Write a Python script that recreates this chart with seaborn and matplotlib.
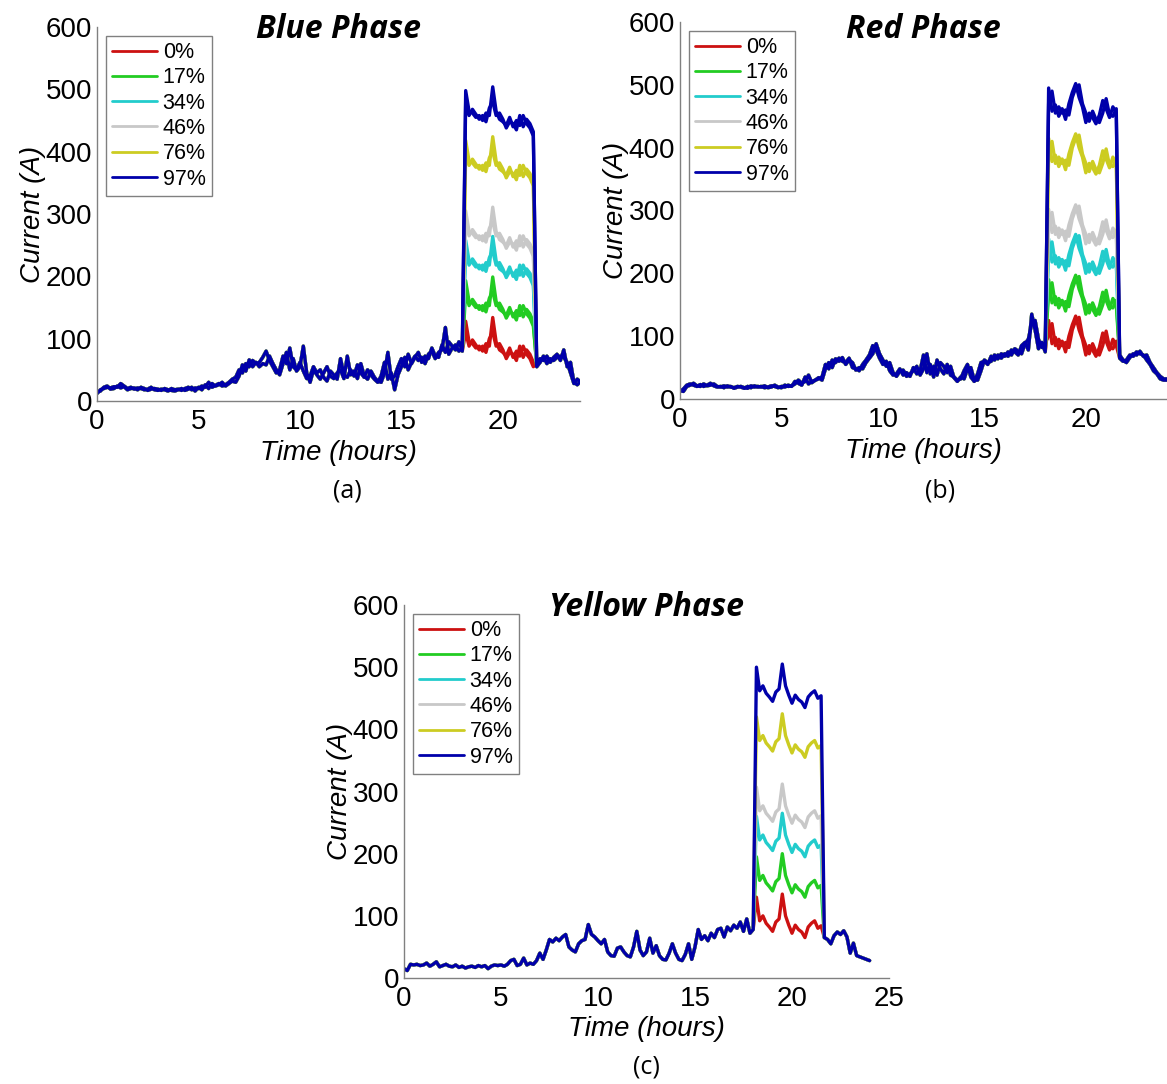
import numpy as np
import pandas as pd
import matplotlib
matplotlib.use("Agg")
import matplotlib.pyplot as plt
import seaborn as sns

# ---------------- data ----------------
levels = ["0%", "17%", "34%", "46%", "76%", "97%"]
# extra current carried by each level during the evening window (A)
level_offset = [0, 65, 130, 177, 290, 370]
window_start_h = 18.1
window_end_h = 21.55
step_h = 1 / 6  # 10-minute samples, 0..24 h

# Blue phase, two traces (A), 10-minute samples
blue_trace1 = [
    12, 18, 20, 22, 21, 23,  22, 28, 24, 20, 22, 19,  21, 20, 18, 19, 22, 18,
    17, 19, 18, 16, 20, 18,  19, 17, 20, 22, 18, 21,  20, 24, 22, 30, 22, 25,
    28, 24, 26, 30, 35, 38,  50, 45, 60, 55, 65, 60,  62, 70, 80, 65, 55, 45,
    50, 72, 60, 85, 55, 50,  62, 48, 36, 40, 55, 45,  50, 38, 32, 48, 42, 35,
    68, 42, 38, 50, 40, 58,  45, 38, 50, 42, 35, 30,  40, 62, 35, 45, 18, 42,
    55, 70, 50, 62, 72, 65,  70, 60, 75, 80, 68, 78,  82, 118, 75, 85, 90, 80,
    85, 128, 95, 92, 85, 88,  80, 92, 88, 134, 95, 82,  78, 72, 85, 70, 80, 72,
    88, 75, 68, 55, 60, 68,  65, 72, 62, 70, 75, 65,  82, 55, 62, 30, 26, 32,
    30]
blue_trace2 = [
    14, 16, 22, 24, 19, 20,  24, 21, 23, 18, 20, 21,  18, 22, 20, 17, 19, 20,
    19, 17, 20, 18, 17, 16,  18, 20, 17, 19, 22, 16,  22, 18, 26, 20, 28, 24,
    26, 30, 24, 28, 32, 30,  40, 58, 48, 66, 55, 62,  55, 60, 58, 72, 60, 50,
    42, 60, 78, 50, 68, 48,  55, 88, 45, 30, 50, 42,  35, 45, 55, 40, 36, 45,
    50, 36, 72, 42, 48, 36,  60, 40, 35, 48, 38, 32,  30, 45, 78, 35, 40, 55,
    68, 55, 75, 60, 70, 78,  62, 72, 68, 85, 72, 70,  90, 78, 95, 88, 82, 95,
    80, 110, 88, 98, 90, 82,  88, 78, 100, 110, 88, 92,  82, 68, 78, 75, 65, 88,
    70, 82, 75, 62, 55, 62,  72, 60, 68, 65, 70, 72,  70, 62, 45, 28, 35, 30,
    28]

# Red phase, two traces (A)
red_trace1 = [
    12, 16, 22, 24, 22, 20,  23, 20, 22, 25, 21, 19,  20, 18, 21, 19, 18, 20,
    19, 17, 20, 18, 21, 19,  20, 18, 19, 21, 20, 18,  20, 19, 22, 20, 28, 25,
    22, 35, 24, 28, 30, 32,  35, 55, 48, 62, 58, 65,  60, 58, 65, 50, 48, 45,
    55, 62, 70, 85, 78, 65,  55, 60, 45, 38, 40, 48,  38, 42, 36, 50, 40, 45,
    70, 42, 55, 35, 62, 48,  40, 55, 38, 35, 30, 32,  45, 55, 35, 28, 40, 58,
    60, 55, 68, 62, 70, 65,  72, 68, 78, 75, 70, 85,  90, 78, 135, 110, 80, 90,
    75, 125, 88, 98, 80, 92,  75, 100, 118, 132, 110, 95,  70, 85, 78, 68, 82, 105,
    92, 78, 95, 85, 65, 60,  62, 70, 68, 75, 72, 70,  62, 55, 45, 40, 32, 30,
    30]
red_trace2 = [
    14, 12, 20, 22, 25, 21,  20, 24, 21, 22, 24, 20,  19, 21, 19, 20, 17, 19,
    20, 18, 17, 21, 19, 20,  19, 21, 18, 19, 22, 19,  18, 22, 20, 21, 24, 30,
    25, 28, 38, 26, 30, 34,  30, 48, 58, 50, 64, 60,  66, 55, 62, 58, 46, 50,
    48, 58, 65, 72, 88, 72,  62, 52, 58, 42, 36, 44,  46, 36, 40, 45, 52, 38,
    48, 72, 40, 52, 38, 58,  52, 42, 52, 34, 28, 35,  32, 48, 50, 30, 30, 45,
    62, 58, 60, 70, 64, 72,  68, 75, 70, 80, 76, 72,  88, 95, 120, 125, 95, 82,
    90, 100, 120, 85, 95, 85,  90, 82, 110, 125, 130, 100,  85, 72, 88, 75, 70, 85,
    108, 82, 80, 92, 70, 62,  58, 66, 72, 70, 76, 68,  70, 58, 50, 42, 36, 32,
    32]

# Yellow phase, one trace (A)
yellow_trace1 = [
    15, 12, 22, 21, 22, 20,  21, 24, 19, 22, 26, 18,  20, 22, 19, 18, 21, 17,
    19, 16, 18, 19, 17, 20,  18, 20, 15, 19, 21, 20,  21, 19, 22, 28, 30, 20,
    22, 32, 21, 24, 22, 28,  40, 30, 45, 62, 58, 64,  60, 66, 70, 50, 45, 42,
    55, 60, 62, 86, 70, 66,  60, 55, 62, 42, 36, 35,  48, 50, 42, 36, 34, 50,
    75, 45, 36, 42, 64, 40,  52, 36, 30, 29, 40, 55,  40, 30, 28, 38, 55, 30,
    50, 78, 62, 68, 60, 72,  65, 78, 80, 66, 82, 76,  85, 80, 90, 75, 95, 72,
    78, 130, 92, 100, 88, 82,  75, 90, 95, 135, 100, 85,  72, 85, 78, 74, 65, 82,
    88, 92, 80, 84, 65, 62,  55, 68, 74, 70, 76, 66,  40, 56, 36, 34, 32, 30,
    28]

panels = [
    ("Blue Phase", "(a)", [blue_trace1, blue_trace2]),
    ("Red Phase", "(b)", [red_trace1, red_trace2]),
    ("Yellow Phase", "(c)", [yellow_trace1]),
]

# ---------------- style ----------------
level_colors = ["#cc1111", "#22cc22", "#22cccc", "#c8c8c8", "#cccc22", "#0000aa"]
sns.set_style("white")
plt.rcParams["font.family"] = ["Liberation Sans", "DejaVu Sans"]
plt.rcParams["text.color"] = "black"
plt.rcParams["axes.labelcolor"] = "black"
plt.rcParams["xtick.labelcolor"] = "black"
plt.rcParams["ytick.labelcolor"] = "black"

fig = plt.figure(figsize=(11.67, 10.84), dpi=100)
W, H = 1167, 1084
# axes rectangles in pixels: left, top(600 line), right, bottom(0 line)
rects = [(97, 27, 580, 401), (680, 22, 1167, 399), (404, 605, 889, 978)]
xlims = [(0, 23.8), (0, 24), (0, 25)]
xticks = [[0, 5, 10, 15, 20], [0, 5, 10, 15, 20], [0, 5, 10, 15, 20, 25]]
caption_pos = [(347, 491), (940, 491), (646, 1067)]
title_pos = [30, 30, 607]

for (title, cap, traces), (l, t, r, b), xl, xt, cp, ty in zip(
        panels, rects, xlims, xticks, caption_pos, title_pos):
    ax = fig.add_axes([l / W, (H - b) / H, (r - l) / W, (b - t) / H])
    rows = []
    for ti, tr in enumerate(traces):
        base = np.asarray(tr, dtype=float)
        time = np.arange(len(base)) * step_h
        inwin = (time >= window_start_h) & (time <= window_end_h)
        for lev, off in zip(levels, level_offset):
            vals = base + off * inwin
            rows.append(pd.DataFrame({"time": time, "current": vals,
                                      "level": lev, "trace": ti}))
    df = pd.concat(rows, ignore_index=True)
    sns.lineplot(data=df, x="time", y="current", hue="level", hue_order=levels,
                 palette=level_colors, units="trace", estimator=None, sort=False,
                 linewidth=2.4, ax=ax, legend=True)
    ax.set_xlim(*xl)
    ax.set_ylim(0, 600)
    ax.set_xticks(xt)
    ax.set_yticks(range(0, 601, 100))
    ax.set_xlabel("Time (hours)", fontsize=20, style="italic", labelpad=3)
    ax.set_ylabel("Current (A)", fontsize=20, style="italic", labelpad=0)
    ax.tick_params(axis="both", direction="in", length=5, color="#808080",
                   labelsize=20, width=1)
    ax.tick_params(axis="x", pad=6)
    ax.tick_params(axis="y", pad=3.5)
    for s in ["top", "right"]:
        ax.spines[s].set_visible(False)
    for s in ["left", "bottom"]:
        ax.spines[s].set_color("#808080")
        ax.spines[s].set_linewidth(1.0)
    handles, labels = ax.get_legend_handles_labels()
    leg = ax.legend(handles, labels, loc="upper left", fontsize=15.5,
                    frameon=True, fancybox=False, framealpha=1,
                    edgecolor="#808080", handlelength=2.1, handletextpad=0.25,
                    labelspacing=0.2, borderpad=0.3, borderaxespad=0.4)
    leg.get_frame().set_linewidth(1.0)
    for ln in leg.get_lines():
        ln.set_linewidth(2.0)
    fig.text((l + r) / 2 / W, 1 - ty / H, title, ha="center", va="center",
             fontsize=23, fontweight="bold", style="italic", family="Open Sans")
    fig.text(cp[0] / W, 1 - cp[1] / H, cap, ha="center", va="center",
             fontsize=18, family="Open Sans")

fig.savefig("out.png", dpi=100)
